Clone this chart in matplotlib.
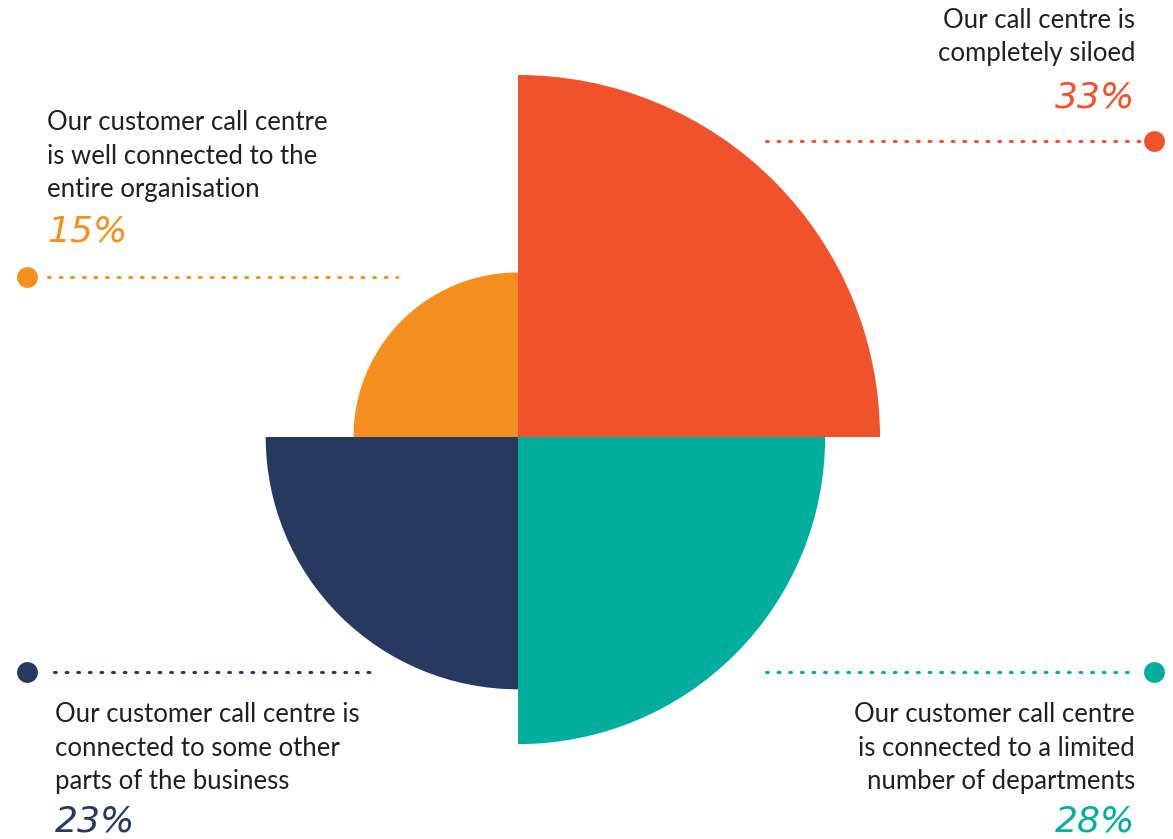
import matplotlib.pyplot as plt
from matplotlib.patches import Wedge

# data
labels = ["Our call centre is\ncompletely siloed",
          "Our customer call centre\nis connected to a limited\nnumber of departments",
          "Our customer call centre is\nconnected to some other\nparts of the business",
          "Our customer call centre\nis well connected to the\nentire organisation"]
values = [33, 28, 23, 15]
colors = ["#F0522C", "#00AE9E", "#263A5F", "#F5901F"]
angles = [(0, 90), (270, 360), (180, 270), (90, 180)]

W, H = 1173, 839
fig = plt.figure(figsize=(W / 100, H / 100), dpi=100)
ax = fig.add_axes([0, 0, 1, 1])
ax.set_xlim(0, W)
ax.set_ylim(0, H)
ax.axis("off")

cx, cy = 518, H - 437
scale = 10.97  # px per percent

for v, c, (a1, a2) in zip(values, colors, angles):
    ax.add_patch(Wedge((cx, cy), v * scale, a1, a2, facecolor=c, edgecolor="none"))

txt = "#231f20"
font = "Lato"

# leader lines: (line x0, x1, y, dot x)
leaders = [(766, 1142, H - 141, 1154),
           (766, 1134, H - 672, 1154),
           (54, 374, H - 672, 27),
           (48, 397, H - 277, 27)]
for (x0, x1, y, dx), c in zip(leaders, colors):
    ax.plot([x0, x1], [y, y], color=c, lw=2.2, linestyle=(0, (0.6, 3.2)),
            dash_capstyle="round", solid_capstyle="round")
    ax.plot(dx, y, "o", color=c, ms=15, mec="none")

# labels: (x, y middle of text block, ha, pct y)
pos = [(1135, H - 37, "right", H - 97),
       (1135, H - 748, "right", H - 822),
       (55, H - 748, "left", H - 822),
       (47, H - 156, "left", H - 232)]
for (x, y, ha, py), lab, v, c in zip(pos, labels, values, colors):
    ax.text(x, y, lab, ha=ha, va="center", fontsize=18.5, color=txt,
            family=font, linespacing=1.42)
    ax.text(x, py, f"{v}%", ha=ha, va="center", fontsize=26, color=c,
            family="DejaVu Sans", style="italic")

fig.savefig("out.png", dpi=100)
